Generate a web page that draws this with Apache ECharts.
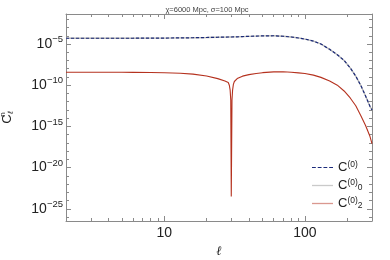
<!DOCTYPE html>
<html><head><meta charset="utf-8">
<script src="https://cdn.jsdelivr.net/npm/echarts@6/dist/echarts.min.js"></script>
<style>html,body{margin:0;padding:0;background:#fff}#c{width:390px;height:260px}</style>
</head><body><div id="c"></div>
<script>
// multipoles ell
const ell = [2,3,4,5,6,8,10,13,16,20,24,27,28.5,29,29.4,29.7,29.95,30.3,30.6,31,31.5,33,36,40,45,50,60,70,80,90,100,115,130,150,170,190,210,230,250,270,290,300];
// log10 of C^(0)
const logC0 = [-4.30,-4.30,-4.30,-4.30,-4.30,-4.29,-4.28,-4.26,-4.24,-4.21,-4.18,-4.16,-4.15,-4.15,-4.15,-4.15,-4.15,-4.14,-4.14,-4.14,-4.14,-4.13,-4.10,-4.07,-4.04,-4.02,-4.00,-4.06,-4.15,-4.27,-4.40,-4.65,-5.00,-5.65,-6.30,-7.00,-7.90,-8.90,-10.05,-11.30,-12.55,-13.00];
// log10 of C^(0)_0
const logC00 = [-4.30,-4.30,-4.30,-4.30,-4.30,-4.29,-4.28,-4.26,-4.24,-4.21,-4.18,-4.16,-4.15,-4.15,-4.15,-4.15,-4.15,-4.14,-4.14,-4.14,-4.14,-4.13,-4.10,-4.07,-4.04,-4.02,-4.00,-4.06,-4.15,-4.27,-4.40,-4.65,-5.00,-5.65,-6.30,-7.00,-7.90,-8.90,-10.05,-11.30,-12.55,-13.00];
// log10 of |C^(0)_2|
const logC02 = [-8.42,-8.42,-8.43,-8.43,-8.44,-8.46,-8.49,-8.55,-8.66,-8.88,-9.20,-9.50,-9.68,-10.0,-10.6,-11.8,-23.5,-11.8,-10.6,-9.90,-9.55,-9.20,-8.90,-8.72,-8.58,-8.48,-8.38,-8.36,-8.42,-8.50,-8.58,-8.78,-9.05,-9.50,-10.0,-10.7,-11.55,-12.5,-13.7,-14.9,-16.2,-17.1];
const xMajor = [10,100];
const xMinor = [2,3,4,5,6,7,8,9,20,30,40,50,60,70,80,90,200,300];
const yMajorExp = [-25,-20,-15,-10,-5];
const yMinorExp = [-26,-24,-23,-22,-21,-19,-18,-17,-16,-14,-13,-12,-11,-9,-8,-7,-6,-4,-3,-2];
const xRange = [2,300];
const yRangeExp = [-26.48,-1.36];

const L = v => Math.log10(v);
const frame = '#8a8a8a';
const mk = arr => ell.map((l,i)=>[L(l), arr[i]]);
const xBase = {type:'value', gridIndex:0, min:L(xRange[0]), max:L(xRange[1]), splitLine:{show:false}};
const yBase = {type:'value', gridIndex:0, min:yRangeExp[0], max:yRangeExp[1], splitLine:{show:false}};
function ax(base, pos, vals, len, line, labels, extra){
  return Object.assign({}, base, {position:pos,
    axisLine:{show:line, lineStyle:{color:frame, width:1}},
    axisTick:{show:true, inside:true, length:len, customValues:vals, lineStyle:{color:frame}},
    axisLabel:labels ? labels : {show:false}}, extra||{});
}
const dashIcon = 'path://M0,0h4v1h-4zM6,0h4v1h-4zM12,0h4v1h-4zM18,0h4v1h-4z';
const chart = echarts.init(document.getElementById('c'), null, {renderer:'canvas'});
chart.setOption({
  animation:false,
  title:{text:'χ=6000 Mpc, σ=100 Mpc', left:202, top:1, textAlign:'center',
    textStyle:{fontSize:7.5, fontWeight:'normal', color:'#444', fontFamily:'Liberation Sans'}},
  grid:{left:66, right:18, top:14, bottom:39, containLabel:false, outerBoundsMode:'none'},
  xAxis:[
    ax(xBase,'bottom',xMajor.map(L),5,true,{show:true, customValues:xMajor.map(L), margin:5,
      formatter:v=>String(Math.round(Math.pow(10,v))), fontSize:14, color:'#222', fontFamily:'Liberation Sans'},
      {name:'ℓ', nameLocation:'middle', nameGap:22, nameTextStyle:{fontSize:13, fontStyle:'italic', color:'#222', fontFamily:'DejaVu Serif'}}),
    ax(xBase,'top',xMajor.map(L),5,true,null),
    ax(xBase,'bottom',xMinor.map(L),3,false,null),
    ax(xBase,'top',xMinor.map(L),3,false,null)
  ],
  yAxis:[
    ax(yBase,'left',yMajorExp,5,true,{show:true, customValues:yMajorExp, margin:3,
      formatter:v=>'{b|10}{s|−'+Math.abs(v)+'}', fontFamily:'Liberation Sans',
      rich:{b:{fontSize:14, color:'#222', fontFamily:'Liberation Sans'}, s:{fontSize:9.5, color:'#222', padding:[0,0,9,0], fontFamily:'Liberation Sans'}}},
      {name:'{c|C}{s|n}{l|ℓ}', nameLocation:'middle', nameGap:50, nameRotate:90,
       nameTextStyle:{rich:{c:{fontSize:13, color:'#222', fontFamily:'Liberation Sans'}, s:{fontSize:8, color:'#222', padding:[0,0,9,0], width:0, fontFamily:'Liberation Sans'}, l:{fontSize:8, color:'#222', padding:[6,0,0,0], fontFamily:'DejaVu Serif', fontStyle:'italic'}}}}),
    ax(yBase,'right',yMajorExp,5,true,null),
    ax(yBase,'left',yMinorExp,3,false,null),
    ax(yBase,'right',yMinorExp,3,false,null)
  ],
  legend:{orient:'vertical', left:307, top:155, itemWidth:21, itemHeight:1.3, itemGap:3,
    data:[
      {name:'C0', icon:dashIcon},
      {name:'C00', icon:'rect', itemStyle:{opacity:0.7}},
      {name:'C02', icon:'rect', itemStyle:{opacity:0.5}}
    ],
    formatter:n=>({C0:'{c|C}{s|(0)}', C00:'{c|C}{s|(0)}{b|0}', C02:'{c|C}{s|(0)}{b|2}'})[n],
    textStyle:{padding:[0,0,0,0], rich:{c:{fontSize:13,lineHeight:16,color:'#222',fontFamily:'Liberation Sans'}, s:{fontSize:8.5,lineHeight:16,color:'#222',padding:[0,0,6,0],fontFamily:'Liberation Sans'}, b:{fontSize:8.5,lineHeight:16,color:'#222',padding:[4,0,0,0],fontFamily:'Liberation Sans'}}}},
  series:[
    {name:'C00', type:'line', xAxisIndex:0, yAxisIndex:0, data:mk(logC00), showSymbol:false, symbol:'none', smooth:false,
      lineStyle:{color:'#b4b4b4', width:1.3}, itemStyle:{color:'#b4b4b4'}},
    {name:'C0', type:'line', xAxisIndex:0, yAxisIndex:0, data:mk(logC0), showSymbol:false, symbol:'none',
      lineStyle:{color:'#1b2a7a', width:1.2, type:[3,2]}, itemStyle:{color:'#1b2a7a'}},
    {name:'C02', type:'line', xAxisIndex:0, yAxisIndex:0, data:mk(logC02), showSymbol:false, symbol:'none',
      lineStyle:{color:'#b5321f', width:1.1}, itemStyle:{color:'#b5321f'}}
  ]
});
</script></body></html>
